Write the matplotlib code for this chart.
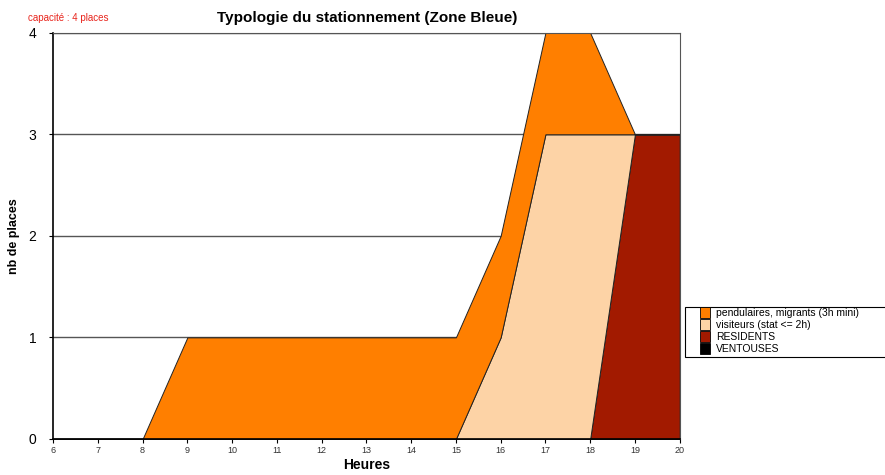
import matplotlib
matplotlib.use("Agg")
import matplotlib.pyplot as plt
from matplotlib.patches import Patch, Rectangle

plt.rcParams["font.family"] = ["Liberation Sans", "DejaVu Sans"]

hours = [6, 7, 8, 9, 10, 11, 12, 13, 14, 15, 16, 17, 18, 19, 20]
residents = [0, 0, 0, 0, 0, 0, 0, 0, 0, 0, 0, 0, 0, 3, 3]
visiteurs = [0, 0, 0, 0, 0, 0, 0, 0, 0, 0, 1, 3, 3, 0, 0]
pendulaires = [0, 0, 0, 1, 1, 1, 1, 1, 1, 1, 1, 1, 1, 0, 0]
ventouses = [0] * len(hours)

labels = ["pendulaires, migrants (3h mini)", "visiteurs (stat <= 2h)", "RESIDENTS", "VENTOUSES"]
colors = ["#FF7F00", "#FDD3A6", "#A21A00", "#000000"]

fig = plt.figure(figsize=(8.85, 4.75), dpi=100, facecolor="white")
ax = fig.add_axes([0.060, 0.076, 0.708, 0.855])

# grid lines behind the areas
for y in [1, 2, 3, 4]:
    ax.axhline(y, color="#555555", lw=1.0, zorder=0)

ax.stackplot(hours, ventouses, residents, visiteurs, pendulaires,
             colors=[colors[3], colors[2], colors[1], colors[0]],
             edgecolor="#222222", linewidth=0.7, zorder=2)

ax.set_xlim(6, 20)
ax.set_ylim(0, 4)
ax.set_xticks(hours)
ax.set_xticklabels([str(h) for h in hours], fontsize=6.5, color="#333333")
ax.set_yticks([0, 1, 2, 3, 4])
ax.set_yticklabels(["0", "1", "2", "3", "4"], fontsize=10)
ax.tick_params(axis="x", length=3, pad=2)
ax.tick_params(axis="y", length=3, pad=9)
for s in ["top", "right"]:
    ax.spines[s].set_color("#555555")
ax.spines["left"].set_linewidth(1.2)
ax.spines["bottom"].set_linewidth(1.2)

ax.set_xlabel("Heures", fontsize=10, fontweight="bold", labelpad=2)
ax.set_ylabel("nb de places", fontsize=9, fontweight="bold", labelpad=6)
fig.text(0.415, 0.962, "Typologie du stationnement (Zone Bleue)", ha="center",
         va="center", fontsize=11, fontweight="bold")
fig.text(0.032, 0.963, "capacité : 4 places", color="#E8241C", fontsize=7,
         va="center")

# legend box, drawn by hand so the entries sit inset like the original
fig.patches.append(Rectangle((0.774, 0.248), 0.24, 0.106, transform=fig.transFigure,
                             facecolor="white", edgecolor="black", lw=0.8))
handles = [Patch(facecolor=c, edgecolor="black", lw=0.6) for c in colors]
leg = fig.legend(handles, labels, loc="upper left", bbox_to_anchor=(0.790, 0.356),
                 fontsize=7.5, frameon=False,
                 handlelength=0.9, handleheight=1.2, handletextpad=0.6,
                 labelspacing=0.12, borderpad=0.1, borderaxespad=0)

fig.savefig("out.png", dpi=100)
